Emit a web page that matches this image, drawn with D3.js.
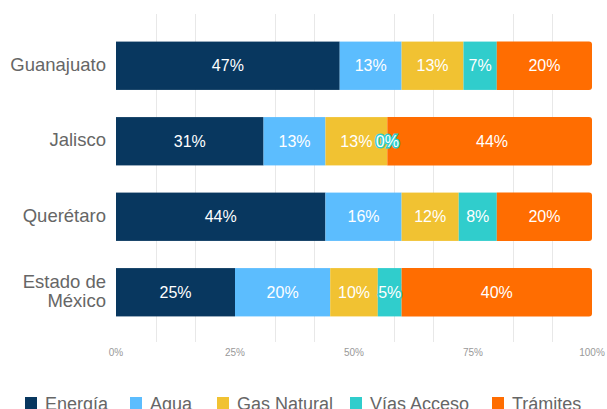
<!DOCTYPE html>
<html>
<head>
<meta charset="utf-8">
<script src="https://cdn.jsdelivr.net/npm/d3@7/dist/d3.min.js"></script>
<style>
  body { margin: 0; background: #fff; }
  svg { display: block; font-family: Arial, "Liberation Sans", Helvetica, sans-serif; }
</style>
</head>
<body>
<svg id="chart" width="607" height="409"></svg>
<script>
// Chart data
const states = ["Guanajuato", "Jalisco", "Querétaro", "Estado de México"];
const stateLines = [["Guanajuato"], ["Jalisco"], ["Querétaro"], ["Estado de", "México"]];
const seriesNames = ["Energía", "Agua", "Gas Natural", "Vías Acceso", "Trámites"];
const seriesColors = ["#08375f", "#5cbdfe", "#f1c232", "#30cdcc", "#ff6d01"];
const energia = [47, 31, 44, 25];
const agua = [13, 13, 16, 20];
const gasNatural = [13, 13, 12, 10];
const viasAcceso = [7, 0, 8, 5];
const tramites = [20, 44, 20, 40];
const tickValues = [0, 25, 50, 75, 100];
const gridValues = [100 / 12, 200 / 12, 400 / 12, 500 / 12, 700 / 12, 800 / 12, 1000 / 12, 1100 / 12];

const seriesValues = [energia, agua, gasNatural, viasAcceso, tramites];

const svg = d3.select("#chart");

const x = d3.scaleLinear().domain([0, 100]).range([116, 592]);
const y = d3.scaleBand().domain(states).range([28, 330]).paddingInner(0.36).paddingOuter(0.18);

// Gridlines
svg.append("g")
    .selectAll("line")
    .data(gridValues)
    .join("line")
    .attr("x1", d => Math.round(x(d)) + 0.5)
    .attr("x2", d => Math.round(x(d)) + 0.5)
    .attr("y1", 14)
    .attr("y2", 342)
    .attr("stroke", "#e8e8e8")
    .attr("stroke-width", 1);

// Build stacked rows
const rows = states.map((s, i) => {
    let start = 0;
    return seriesValues.map((vals, k) => {
        const seg = { state: s, k: k, v: vals[i], x0: start, x1: start + vals[i] };
        start += vals[i];
        return seg;
    });
});

// Rect with rounded right corners
function rightRounded(x0, y0, w, h, r) {
    r = Math.min(r, w);
    return `M${x0},${y0}H${x0 + w - r}Q${x0 + w},${y0} ${x0 + w},${y0 + r}` +
        `V${y0 + h - r}Q${x0 + w},${y0 + h} ${x0 + w - r},${y0 + h}H${x0}Z`;
}

const bars = svg.append("g");
rows.forEach(row => {
    row.forEach((seg, k) => {
        const x0 = x(seg.x0);
        const w = x(seg.x1) - x(seg.x0);
        if (k === row.length - 1) {
            bars.append("path")
                .attr("d", rightRounded(x0, y(seg.state), Math.min(w, 592 - x0), y.bandwidth(), 3))
                .attr("fill", seriesColors[k]);
        } else {
            bars.append("rect")
                .attr("x", x0)
                .attr("y", y(seg.state))
                .attr("width", w)
                .attr("height", y.bandwidth())
                .attr("fill", seriesColors[k]);
        }
    });
});

// Value labels
const labels = svg.append("g");
rows.forEach(row => {
    row.forEach(seg => {
        labels.append("text")
            .attr("x", x((seg.x0 + seg.x1) / 2))
            .attr("y", y(seg.state) + y.bandwidth() / 2)
            .attr("text-anchor", "middle")
            .attr("dominant-baseline", "central")
            .attr("font-size", 16)
            .attr("fill", "#fff")
            .attr("stroke", seriesColors[seg.k])
            .attr("stroke-width", 3)
            .attr("paint-order", "stroke")
            .text(seg.v + "%");
    });
});

// Category labels
const cats = svg.append("g");
states.forEach((s, i) => {
    const lines = stateLines[i];
    const cy = y(s) + y.bandwidth() / 2 - 1.5;
    lines.forEach((t, j) => {
        cats.append("text")
            .attr("x", 106)
            .attr("y", cy + (j - (lines.length - 1) / 2) * 18.5)
            .attr("text-anchor", "end")
            .attr("dominant-baseline", "central")
            .attr("font-size", 18.5)
            .attr("fill", "#666")
            .text(t);
    });
});

// X axis tick labels
svg.append("g")
    .selectAll("text")
    .data(tickValues)
    .join("text")
    .attr("x", d => x(d))
    .attr("y", 356)
    .attr("text-anchor", "middle")
    .attr("font-size", 10)
    .attr("fill", "#999")
    .text(d => d + "%");

// Legend
const legendX = [25, 130, 217, 350, 492];
const legend = svg.append("g");
seriesNames.forEach((name, k) => {
    legend.append("rect")
        .attr("x", legendX[k])
        .attr("y", 397)
        .attr("width", 12)
        .attr("height", 12)
        .attr("fill", seriesColors[k]);
    legend.append("text")
        .attr("x", legendX[k] + 20)
        .attr("y", 410)
        .attr("font-size", 18)
        .attr("fill", "#666")
        .text(name);
});
</script>
</body>
</html>
